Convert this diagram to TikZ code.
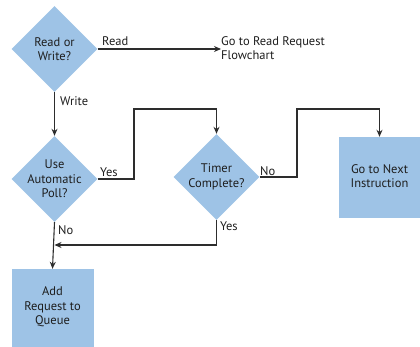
\documentclass[tikz,border=0pt]{standalone}
\usepackage{fontspec}
\setmainfont{PT Sans}
\usetikzlibrary{shapes.geometric,arrows.meta}
\definecolor{boxblue}{RGB}{158,195,230}
\definecolor{linegrey}{RGB}{45,45,45}
\definecolor{txtgrey}{RGB}{30,30,30}
\begin{document}
\begin{tikzpicture}[x=1pt,y=-1pt,
  every node/.style={font=\fontsize{12.5}{14.5}\selectfont, text=txtgrey},
  dec/.style={diamond, fill=boxblue, inner sep=0pt, minimum width=86pt, minimum height=86pt},
  proc/.style={rectangle, fill=boxblue, inner sep=0pt, minimum width=82pt, minimum height=81pt},
  txt/.style={align=center, inner sep=0pt},
  lbl/.style={inner sep=0pt},
  conn/.style={draw=linegrey, line width=1.1pt},
  arr/.style={conn, -{Stealth[length=7pt,width=6pt]}}
]
\useasboundingbox (0,0) rectangle (420,347);
\begin{scope}
\clip (0,0) rectangle (420,347);
% nodes
\node[dec] (d1) at (54.5,49) {};
\node[txt] at (d1) {Read or\\Write?};
\node[dec] (d2) at (54.5,179) {};
\node[txt] at (d2) {Use\\Automatic\\Poll?};
\node[dec] (d3) at (216.5,177) {};
\node[txt] at (d3) {Timer\\Complete?};
\node[proc] (next) at (379.5,177.5) {};
\node[txt] at (379.5,176) {Go to Next\\Instruction};
\node[proc] (queue) at (52.5,309.5) {};
\node[txt] at (52.5,307) {Add\\Request to\\Queue};
\node[txt, align=left, anchor=west] (readfc) at (221,48) {Go to Read Request\\Flowchart};
% coordinates
\coordinate (y1) at (134,109);
\coordinate (n1) at (297,109);
\coordinate (j1) at (54.5,245);
% connectors
\draw[arr] (d1.east) -- (readfc.west |- d1.east);
\draw[arr] (d1.south) -- (d2.north);
\draw[arr] (d2.east) -| (y1) -| (d3.north);
\draw[arr] (d3.east) -| (n1) -| (next.north);
\draw[arr] (d3.south) |- (j1);
\draw[arr] (d2.south) -- (queue.north);
% labels
\node[lbl, anchor=south west] at (102,46) {Read};
\node[lbl, anchor=west] at (60,101) {Write};
\node[lbl, anchor=south west] at (100,177) {Yes};
\node[lbl, anchor=south west] at (260,176) {No};
\node[lbl, anchor=west] at (220,226) {Yes};
\node[lbl, anchor=west] at (58,230) {No};
\end{scope}
\end{tikzpicture}
\end{document}
